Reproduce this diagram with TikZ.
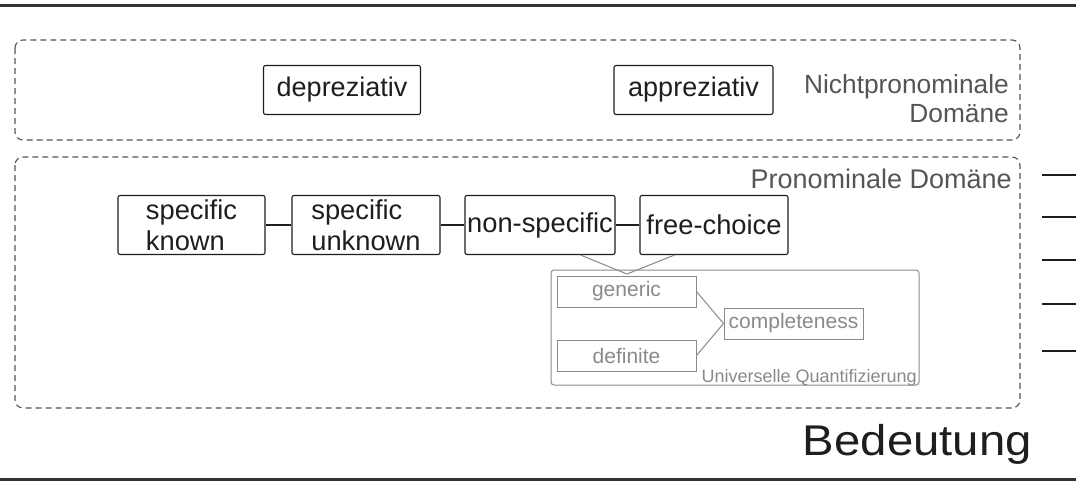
\documentclass[tikz,border=0pt]{standalone}
\usepackage{fontspec}
\setmainfont{Liberation Sans}
\definecolor{dk}{HTML}{1E1E1E}
\definecolor{lab}{HTML}{555555}
\definecolor{lt}{HTML}{8A8A8A}
\begin{document}
\begin{tikzpicture}[x=1pt,y=-1pt,
  bbox/.style={draw=dk,line width=1.1pt,rounded corners=2pt,inner sep=0pt,text=dk,
     font=\fontsize{27}{29}\selectfont},
  pbox/.style={bbox,minimum height=59pt,align=left,font=\fontsize{27.3}{31}\selectfont},
  gbox/.style={draw=lt,line width=1pt,inner sep=0pt,text=lt,minimum width=139pt,minimum height=31pt,
     font=\fontsize{21}{23}\selectfont},
  domainbox/.style={draw=lab,line width=1.1pt,dash pattern=on 6pt off 4pt,rounded corners=8pt},
  lbl/.style={text=lab,inner sep=0pt},
  conn/.style={draw=dk,line width=1.1pt},
  gconn/.style={draw=lt,line width=1pt},
  framerule/.style={draw=black!80,line width=3pt},
  rtick/.style={draw=dk,line width=1.1pt}]
\useasboundingbox (0,0) rectangle (1076,483);
\fill[white] (0,0) rectangle (1076,483);
% frame rules
\coordinate (tl) at (0,5); \coordinate (tr) at (1076,5);
\coordinate (bl) at (0,479); \coordinate (br) at (1076,479);
\draw[framerule] (tl) -- (tr);
\draw[framerule] (bl) -- (br);
% domains
\draw[domainbox] (15,40) rectangle (1020,140);
\draw[domainbox] (15,157) rectangle (1020,408);
% nichtpronominal
\node[bbox,minimum width=157pt,minimum height=49pt] (dep) at (342,90) {depreziativ};
\node[bbox,minimum width=159pt,minimum height=49pt] (app) at (693.5,90) {appreziativ};
\node[lbl,font=\fontsize{26.3}{29}\selectfont,anchor=base east] (np1) at (1009,93) {Nichtpronominale};
\node[lbl,font=\fontsize{26.3}{29}\selectfont,anchor=base east] (np2) at (1009,122) {Domäne};
\node[lbl,font=\fontsize{27}{29}\selectfont,anchor=base east] (pd) at (1012,188) {Pronominale Domäne};
% pronominal chain
\node[pbox,minimum width=147pt] (sk) at (191.5,225) {specific\\known};
\node[pbox,minimum width=148pt] (su) at (366,225) {specific\\unknown};
\node[pbox,minimum width=150pt] (ns) at (540,225) {non-specific};
\node[pbox,minimum width=148pt] (fc) at (714,225) {free-choice};
\draw[conn] (sk) -- (su);
\draw[conn] (su) -- (ns);
\draw[conn] (ns) -- (fc);
% universal quantification
\node[draw=lt,line width=1pt,rounded corners=3pt,minimum width=368pt,minimum height=115pt,inner sep=0pt] (uq) at (735,327.5) {};
\node[text=lt,font=\fontsize{18}{20}\selectfont,inner sep=0pt,anchor=base east] (uql) at (917,382) {Universelle Quantifizierung};
\node[gbox] (gen) at (626.5,291.5) {generic};
\node[gbox] (def) at (626.5,355.5) {definite};
\node[gbox] (comp) at (793.5,323.5) {completeness};
\coordinate (j) at (627,274);
\draw[gconn] (ns.south east) ++(-35,0) coordinate (nsb) -- (j);
\draw[gconn] (fc.south west) ++(35,0) coordinate (fcb) -- (j);
\draw[gconn] (gen.east) -- (comp.west);
\draw[gconn] (def.east) -- (comp.west);
% right ticks
\foreach \y/\n in {175/a,217/b,260/c,304/d,351/e}{
  \coordinate (t\n1) at (1042,\y); \coordinate (t\n2) at (1076,\y);
  \draw[rtick] (t\n1) -- (t\n2);
}
% title
\node[text=dk,font=\fontsize{43}{48}\selectfont,inner sep=0pt,anchor=base east] (bed) at (1032,455) {\scalebox{1.1}[1]{Bedeutung}};
\end{tikzpicture}
\end{document}
